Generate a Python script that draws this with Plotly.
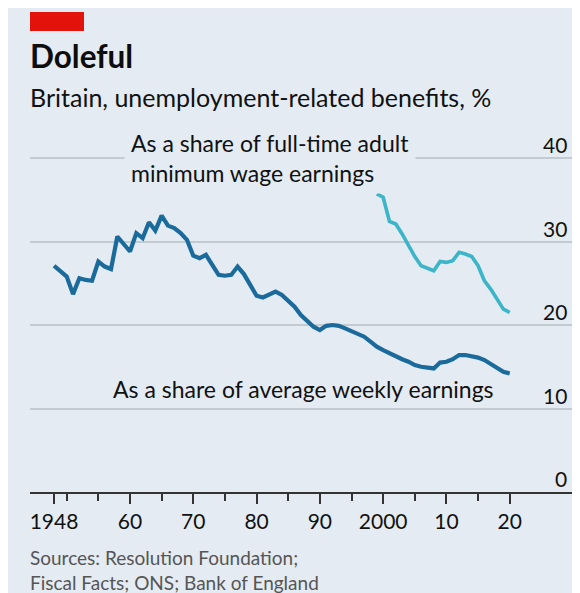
import plotly.graph_objects as go

# ---- data ----
years_avg = list(range(1948, 2021))
share_avg = [27.1, 26.4, 25.8, 23.7, 25.6, 25.4, 25.3, 27.6, 27.0, 26.7,
             30.6, 29.7, 28.8, 31.0, 30.4, 32.3, 31.3, 33.1, 31.9, 31.6,
             31.0, 30.2, 28.3, 28.0, 28.4, 27.2, 26.0, 25.9, 26.0, 27.0,
             26.1, 24.8, 23.5, 23.3, 23.7, 24.0, 23.6, 22.9, 22.2, 21.2,
             20.5, 19.8, 19.4, 19.9, 20.0, 19.9, 19.6, 19.3, 19.0, 18.6,
             18.0, 17.4, 17.0, 16.6, 16.3, 15.9, 15.6, 15.2, 15.0, 14.9,
             14.8, 15.5, 15.6, 15.9, 16.4, 16.4, 16.3, 16.1, 15.8, 15.3,
             14.9, 14.4, 14.2]

years_min = list(range(1999, 2021))
share_min = [35.7, 35.3, 32.4, 32.1, 30.9, 29.5, 28.2, 27.1, 26.8, 26.5,
             27.6, 27.5, 27.7, 28.7, 28.5, 28.2, 27.1, 25.3, 24.3, 23.1,
             21.9, 21.5]

x_tickvals = [1948, 1960, 1970, 1980, 1990, 2000, 2010, 2020]
x_ticktext = ["1948", "60", "70", "80", "90", "2000", "10", "20"]
x_minor = [1950, 1955, 1965, 1975, 1985, 1995, 2005, 2015]
y_tickvals = [0, 10, 20, 30, 40]
y_ticktext = ["0", "10", "20", "30", "40"]

title = "Doleful"
subtitle = "Britain, unemployment-related benefits, %"
label_min = "As a share of full-time adult<br>minimum wage earnings"
label_avg = "As a share of average weekly earnings"
source = "Sources: Resolution Foundation;<br>Fiscal Facts; ONS; Bank of England"

# ---- style ----
BG = "#e4ebf2"
DARK = "#1b6a9c"
LIGHT = "#3cb5c8"
GRID = "#c3cbd2"
FONT = "Lato"

OFF = 8                      # page body margin of the browser
W, H = 580 - OFF, 593 - OFF  # figure size so it fills the window
L, R, T, B = 30 - OFF, 7, 130 - OFF, 101
PW = W - L - R
PH = H - T - B


def fy(Y):
    """window pixel row -> paper y"""
    return (H - B - (Y - OFF)) / PH


def fx(X):
    """window pixel column -> paper x"""
    return (X - OFF - L) / PW


fig = go.Figure()
fig.add_trace(go.Scatter(x=years_avg, y=share_avg, mode="lines",
                         line=dict(color=DARK, width=4.2), hoverinfo="skip"))
fig.add_trace(go.Scatter(x=years_min, y=share_min, mode="lines",
                         line=dict(color=LIGHT, width=3.6), hoverinfo="skip"))

annotations = [
    dict(text=f"<b>{title}</b>", xref="paper", yref="paper", x=fx(28), y=fy(56),
         xanchor="left", yanchor="middle", showarrow=False,
         font=dict(size=31.5, color="#0d0d0d")),
    dict(text=subtitle, xref="paper", yref="paper", x=fx(28), y=fy(97),
         xanchor="left", yanchor="middle", showarrow=False,
         font=dict(size=25, color="#111111")),
    dict(text=label_min, x=1959.05, y=40, xref="x", yref="y",
         xanchor="left", yanchor="middle", align="left", showarrow=False,
         bgcolor=BG, borderpad=6,
         font=dict(size=23, color="#111111")),
    dict(text=label_avg, x=1957.0, y=12.3, xref="x", yref="y",
         xanchor="left", yanchor="middle", align="left", showarrow=False,
         font=dict(size=23, color="#111111")),
    dict(text=source, xref="paper", yref="paper", x=fx(28), y=fy(570),
         xanchor="left", yanchor="middle", align="left", showarrow=False,
         font=dict(size=19, color="#555555")),
]
# right-hand y tick labels, sitting just above their gridlines
for v, t in zip(y_tickvals, y_ticktext):
    annotations.append(dict(text=t, x=fx(568), y=v, xref="paper", yref="y",
                            xanchor="right", yanchor="bottom", showarrow=False,
                            borderpad=0, font=dict(size=21, color="#111111")))

fig.update_layout(
    width=W, height=H,
    margin=dict(l=L, r=R, t=T, b=B, pad=0, autoexpand=False),
    paper_bgcolor=BG, plot_bgcolor=BG,
    showlegend=False,
    font=dict(family=FONT, color="#111111"),
    xaxis=dict(
        range=[1944.2, 2030], showgrid=False, zeroline=False,
        showline=True, linecolor="#333333", linewidth=2,
        tickmode="array", tickvals=x_tickvals, ticktext=x_ticktext,
        ticks="outside", ticklen=10, tickwidth=2, tickcolor="#333333",
        tickfont=dict(size=21, color="#111111"),
        minor=dict(tickmode="array", tickvals=x_minor, ticks="outside",
                   ticklen=7, tickwidth=1.5, tickcolor="#333333"),
        fixedrange=True,
    ),
    yaxis=dict(
        range=[0, PH / 8.35], side="right",
        tickmode="array", tickvals=y_tickvals,
        showgrid=True, gridcolor=GRID, gridwidth=2,
        zeroline=False, showline=False, ticks="", showticklabels=False,
        fixedrange=True,
    ),
    shapes=[
        dict(type="rect", xref="paper", yref="paper", x0=fx(30), x1=fx(84),
             y0=fy(31), y1=fy(12), fillcolor="#e3120b", line=dict(width=0)),
    ],
    annotations=annotations,
)

fig.write_html("out.html")
